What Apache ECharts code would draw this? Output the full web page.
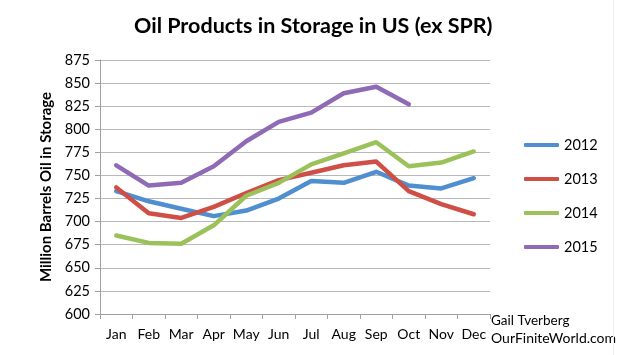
<!DOCTYPE html>
<html><head><meta charset="utf-8">
<script src="https://cdn.jsdelivr.net/npm/echarts@6/dist/echarts.min.js"></script>
<style>html,body{margin:0;padding:0;background:#fff}#c{width:640px;height:355px}</style>
</head><body><div id="c"></div>
<script>
const months = ['Jan','Feb','Mar','Apr','May','Jun','Jul','Aug','Sep','Oct','Nov','Dec'];
const s2012 = [733, 722, 714, 706, 712, 725, 744, 742, 754, 739, 736, 747];
const s2013 = [737, 709, 704, 716, 731, 745, 753, 761, 765, 733, 719, 708];
const s2014 = [685, 677, 676, 696, 728, 742, 762, 774, 786, 760, 764, 776];
const s2015 = [761, 739, 742, 760, 787, 808, 818, 839, 846, 827];
const yTicks = {min: 600, max: 875, step: 25};
const titleText = 'Oil Products in Storage in US (ex SPR)';
const yName = 'Million Barrels Oil in Storage';
const credit = ['Gail Tverberg', 'OurFiniteWorld.com'];

const FONT = 'Lato';
const colors = ['#4f8fd0', '#cf4f47', '#9bc25a', '#8f6bb5'];
const mk = (name, data, i) => ({
  name, type: 'line', data, symbol: 'none', smooth: false,
  lineStyle: {width: 4.5, color: colors[i], cap: 'round', join: 'round'},
  itemStyle: {color: colors[i]}
});
const chart = echarts.init(document.getElementById('c'), null, {renderer: 'canvas'});
chart.setOption({
  animation: false,
  textStyle: {fontFamily: FONT},
  title: {text: titleText, left: 129, top: 10,
    textStyle: {fontFamily: FONT, fontWeight: 'bold', fontSize: 21.5, color: '#000'}},
  grid: {left: 100, right: 150, top: 60, bottom: 41, containLabel: false},
  legend: {orient: 'vertical', left: 519, top: 132, itemWidth: 35, itemHeight: 4,
    itemGap: 18, icon: 'roundRect',
    textStyle: {fontFamily: FONT, fontSize: 14.5, color: '#000', lineHeight: 16},
    data: ['2012','2013','2014','2015']},
  xAxis: {type: 'category', data: months, boundaryGap: true,
    axisLine: {lineStyle: {color: '#a0a0a0', width: 1}},
    axisTick: {show: true, length: 5, lineStyle: {color: '#a0a0a0'}},
    axisLabel: {fontFamily: FONT, fontSize: 14, color: '#000', margin: 13, interval: 0}},
  yAxis: {type: 'value', min: yTicks.min, max: yTicks.max, interval: yTicks.step,
    name: yName, nameLocation: 'middle', nameGap: 46,
    nameTextStyle: {fontFamily: FONT, fontWeight: 'bold', fontSize: 15, color: '#000'},
    axisLine: {show: true, lineStyle: {color: '#a0a0a0', width: 1}},
    axisTick: {show: true, length: 5, lineStyle: {color: '#a0a0a0'}},
    axisLabel: {fontFamily: FONT, fontSize: 14.5, color: '#000', margin: 10},
    splitLine: {lineStyle: {color: '#b8b8b8', width: 1}}},
  series: [mk('2012', s2012, 0), mk('2013', s2013, 1), mk('2014', s2014, 2), mk('2015', s2015, 3)],
  graphic: [
    {type: 'text', left: 491, top: 314, style: {text: credit[0], font: '13.5px Lato', fill: '#000'}},
    {type: 'text', left: 491, top: 331, style: {text: credit[1], font: '14px Lato', fill: '#000'}},
    {type: 'line', shape: {x1: 613.5, y1: 0, x2: 613.5, y2: 355}, style: {stroke: '#eeeeee', lineWidth: 1}}
  ]
});
</script></body></html>
